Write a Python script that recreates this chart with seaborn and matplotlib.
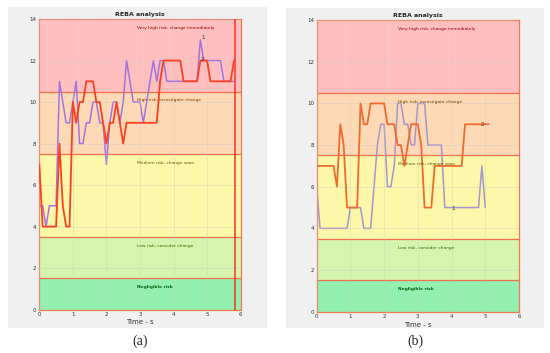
import pandas as pd
import seaborn as sns
import matplotlib.pyplot as plt
from matplotlib.patches import Rectangle

# --- data ---
time_a = [0.0, 0.1, 0.2, 0.3, 0.4, 0.5, 0.6, 0.7, 0.8, 0.9,
          1.0, 1.1, 1.2, 1.3, 1.4, 1.5, 1.6, 1.7, 1.8, 1.9,
          2.0, 2.1, 2.2, 2.3, 2.4, 2.5, 2.6, 2.7, 2.8, 2.9,
          3.0, 3.1, 3.2, 3.3, 3.4, 3.5, 3.6, 3.7, 3.8, 3.9,
          4.0, 4.1, 4.2, 4.3, 4.4, 4.5, 4.6, 4.7, 4.8, 4.9,
          5.0, 5.1, 5.2, 5.3, 5.4, 5.5, 5.6, 5.7, 5.8]
reba1_a = [5, 5, 4, 5, 5, 5, 11, 10, 9, 9,
           10, 11, 8, 8, 9, 9, 10, 10, 9, 9,
           7, 9, 10, 10, 9, 10, 12, 11, 10, 10,
           10, 9, 10, 11, 12, 11, 12, 12, 11, 11,
           11, 11, 11, 11, 11, 11, 11, 11, 13, 12,
           12, 12, 12, 12, 12, 11, 11, 11, 11]
reba2_a = [7, 4, 4, 4, 4, 4, 8, 5, 4, 4,
           10, 9, 10, 10, 11, 11, 11, 10, 10, 9,
           8, 9, 9, 10, 9, 8, 9, 9, 9, 9,
           9, 9, 9, 9, 9, 9, 11, 12, 12, 12,
           12, 12, 12, 11, 11, 11, 11, 11, 12, 12,
           12, 11, 11, 11, 11, 11, 11, 11, 12]
cursor_a = 5.83

time_b = [0.0, 0.1, 0.2, 0.3, 0.4, 0.5, 0.6, 0.7, 0.8, 0.9,
          1.0, 1.1, 1.2, 1.3, 1.4, 1.5, 1.6, 1.7, 1.8, 1.9,
          2.0, 2.1, 2.2, 2.3, 2.4, 2.5, 2.6, 2.7, 2.8, 2.9,
          3.0, 3.1, 3.2, 3.3, 3.4, 3.5, 3.6, 3.7, 3.8, 3.9,
          4.0, 4.1, 4.2, 4.3, 4.4, 4.5, 4.6, 4.7, 4.8, 4.9,
          5.0, 5.1]
reba1_b = [6, 4, 4, 4, 4, 4, 4, 4, 4, 4,
           5, 5, 5, 5, 4, 4, 4, 6, 8, 9,
           9, 6, 6, 7, 10, 10, 9, 9, 8, 8,
           10, 10, 10, 8, 8, 8, 8, 8, 5, 5,
           5, 5, 5, 5, 5, 5, 5, 5, 5, 7,
           5, None]
reba2_b = [7, 7, 7, 7, 7, 7, 6, 9, 8, 5,
           5, 5, 5, 10, 9, 9, 10, 10, 10, 10,
           10, 9, 9, 9, 8, 8, 7, 8, 9, 9,
           9, 8, 5, 5, 5, 7, 7, 7, 7, 7,
           7, 7, 7, 7, 9, 9, 9, 9, 9, 9,
           9, 9]

band_edges = [0, 1.5, 3.5, 7.5, 10.5, 14]
band_colors = ["#93f0b0", "#d5f5ae", "#fdf7aa", "#fddab5", "#ffbfbf"]
band_names = ["Negligible risk", "Low risk, consider change", "Medium risk, change soon",
              "High risk, investigate change", "Very high risk, change immediately"]
band_text_colors = ["#00661a", "#3a6b00", "#5a5a00", "#7a3a00", "#900000"]

sns.set_theme(style="white")
plt.rcParams["font.family"] = ["DejaVu Sans"]

fig = plt.figure(figsize=(5.5, 3.53), dpi=100)
fig.patch.set_facecolor("white")

# grey MATLAB-like figure boxes
fig.patches.append(Rectangle((8 / 550, 1 - 327 / 353), 258 / 550, 320 / 353,
                             transform=fig.transFigure, color="#f0f0f0", zorder=-5))
fig.patches.append(Rectangle((286 / 550, 1 - 327 / 353), 257 / 550, 319 / 353,
                             transform=fig.transFigure, color="#f0f0f0", zorder=-5))

ax_a = fig.add_axes([0.0715, 0.123, 0.366, 0.823])
ax_b = fig.add_axes([0.5758, 0.117, 0.3678, 0.826])


def draw_panel(ax, t, s1, s2, c1, c2, text_x, lab1, lab2):
    for i in range(len(band_colors)):
        ax.axhspan(band_edges[i], band_edges[i + 1], color=band_colors[i], zorder=0, lw=0)
        ax.text(text_x, band_edges[i + 1] - 0.42, band_names[i], fontsize=3.2,
                color=band_text_colors[i], va="center", ha="left",
                fontweight="bold" if i == 0 else "normal", zorder=4)
    for e in band_edges[1:-1]:
        ax.axhline(e, color="#f07050", lw=0.9, zorder=1)
    ax.grid(True, color="#c8c8c8", lw=0.4, alpha=0.6, zorder=0.5)
    df = pd.DataFrame({"t": t, "s1": s1, "s2": s2})
    sns.lineplot(data=df, x="t", y="s1", ax=ax, color=c1, lw=1.1, zorder=2)
    sns.lineplot(data=df, x="t", y="s2", ax=ax, color=c2, lw=1.3, zorder=3)
    ax.text(lab1[0], lab1[1], "1", fontsize=4, color="#333333", va="center", zorder=5)
    ax.text(lab2[0], lab2[1], "2", fontsize=4, color="#333333", va="center", zorder=5)
    ax.set_xlim(0, 6)
    ax.set_ylim(0, 14)
    ax.set_xticks(range(0, 7))
    ax.set_yticks(range(0, 15, 2))
    ax.tick_params(labelsize=4, length=2, width=0.5, direction="in", pad=2, colors="#333333")
    ax.set_xlabel("Time - s", fontsize=5, labelpad=1.5, color="#333333")
    ax.set_ylabel("")
    ax.set_title("REBA analysis", fontsize=4.5, fontweight="bold", pad=2)
    for sp in ax.spines.values():
        sp.set_color("#f07a50")
        sp.set_linewidth(0.9)
    ax.set_axisbelow(False)


draw_panel(ax_a, time_a, reba1_a, reba2_a, "#a274e0", "#ff4020", 2.9,
           (4.82, 13.1), (4.82, 12.05))
ax_a.axvline(cursor_a, color="#ff3020", lw=1.1, zorder=3)
draw_panel(ax_b, time_b, reba1_b, reba2_b, "#a696cc", "#f26a30", 2.42,
           (4.0, 4.95), (4.85, 9.0))

fig.text(140 / 550, 1 - 341 / 353, "(a)", fontsize=10, family="Liberation Serif",
         ha="center", va="center")
fig.text(415 / 550, 1 - 341 / 353, "(b)", fontsize=10, family="Liberation Serif",
         ha="center", va="center")

fig.savefig("out.png", dpi=100)
